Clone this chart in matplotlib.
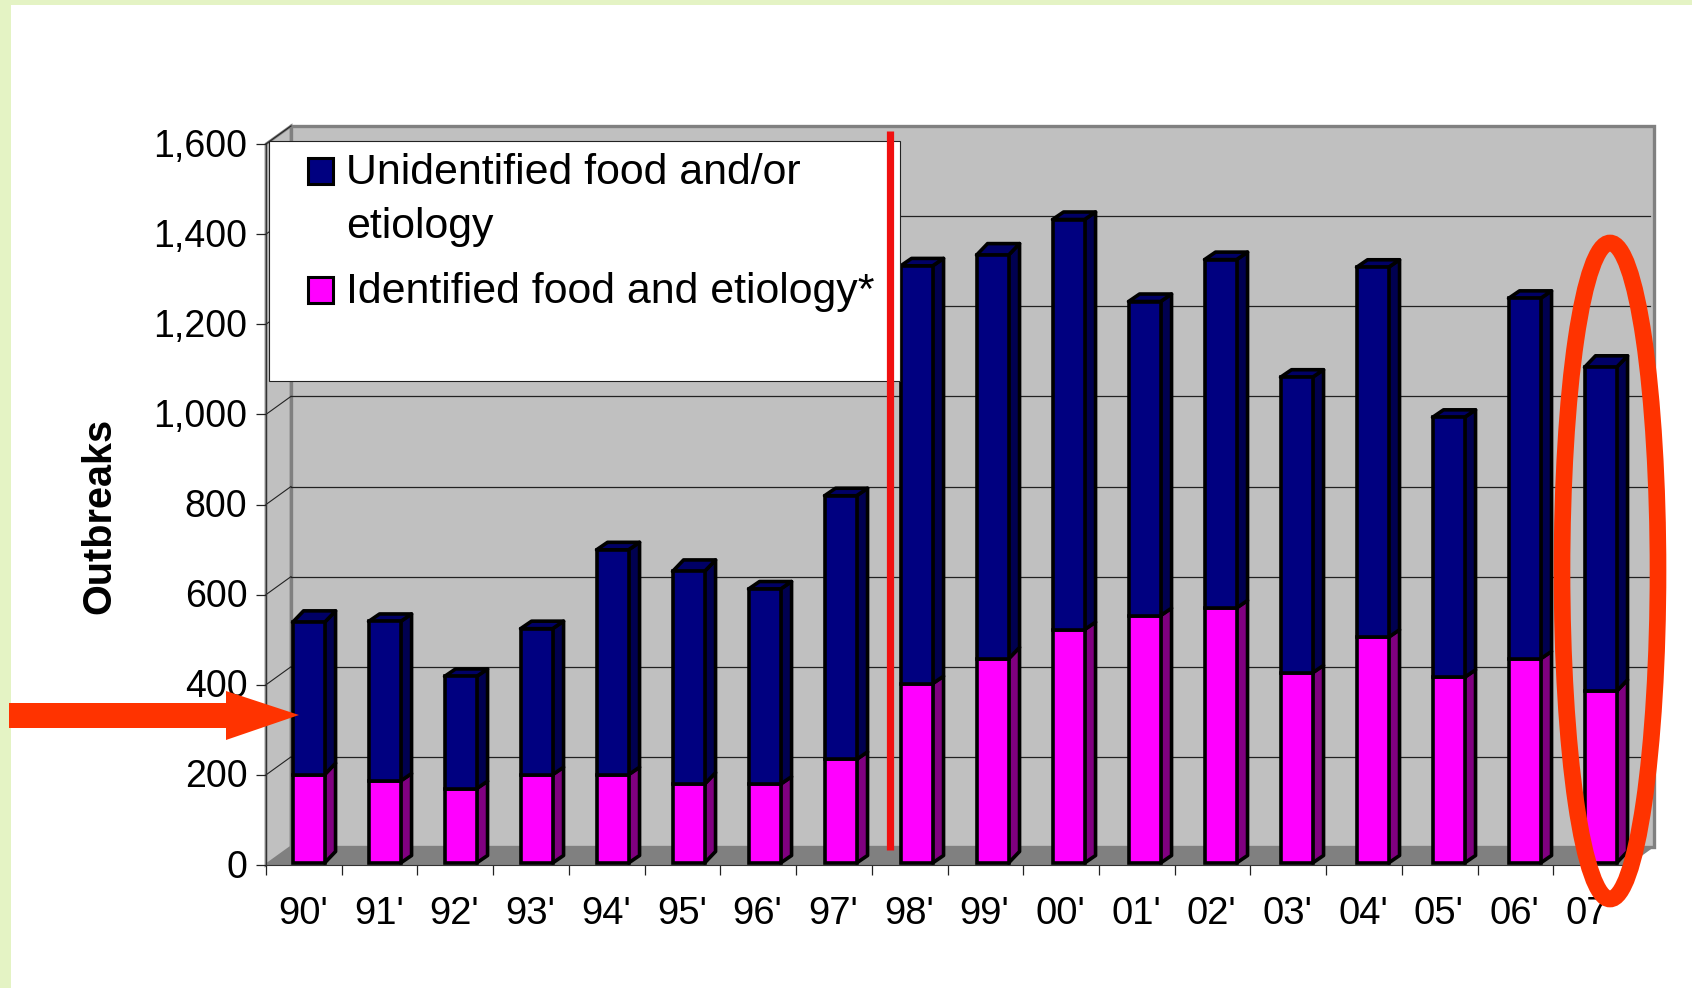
import numpy as np
import matplotlib
matplotlib.use("Agg")
import matplotlib.pyplot as plt
from matplotlib.patches import Rectangle, Ellipse, Polygon
from matplotlib.transforms import ScaledTranslation

plt.rcParams['font.family'] = ['Liberation Sans', 'DejaVu Sans']

years = ["90'", "91'", "92'", "93'", "94'", "95'", "96'", "97'", "98'", "99'",
         "00'", "01'", "02'", "03'", "04'", "05'", "06'", "07'"]
identified = [196, 182, 165, 196, 196, 175, 175, 230, 398, 453,
              518, 549, 566, 422, 501, 412, 453, 381]
unidentified = [338, 354, 249, 324, 499, 472, 433, 585, 927, 896,
                910, 697, 773, 656, 821, 577, 800, 719]
y_ticks = [0, 200, 400, 600, 800, 1000, 1200, 1400, 1600]

W, H = 1692, 988
fig = plt.figure(figsize=(W / 100, H / 100), dpi=100, facecolor="#e4f3c4")

# white slide area behind everything
bg = fig.add_axes([0, 0, 1, 1], zorder=0)
bg.set_xlim(0, W)
bg.set_ylim(H, 0)
bg.axis("off")
bg.add_patch(Rectangle((11, 5), W - 11, H - 5, fc="white", ec="none"))

# chart axes, front plane of the 3d box
L, R, B, T = 266, 1629, 865, 144
ax = fig.add_axes([L / W, 1 - B / H, (R - L) / W, (B - T) / H], zorder=1)
ax.patch.set_visible(False)
ax.set_xlim(0, 18)
ax.set_ylim(0, 1600)
px, py = 18 / (R - L), 1600 / (B - T)

# box walls
dx, dy = 25 * px, 18 * py
grey = "#808080"
wall = "#c0c0c0"
ax.add_patch(Polygon([(dx, dy), (18 + dx, dy), (18 + dx, 1600 + dy), (dx, 1600 + dy)],
                     fc=wall, ec=grey, lw=2.4, clip_on=False, zorder=1))
ax.add_patch(Polygon([(0, 0), (dx, dy), (dx, 1600 + dy), (0, 1600)],
                     fc=wall, ec=grey, lw=2.0, clip_on=False, zorder=1))
ax.add_patch(Polygon([(0, 0), (18, 0), (18 + dx, dy), (dx, dy)],
                     fc=grey, ec="none", clip_on=False, zorder=2))
for v in y_ticks[1:-1]:
    ax.plot([dx, 18 + dx - 4 * px], [v + dy, v + dy], color="#222222", lw=0.9,
            clip_on=False, zorder=2)
for v in y_ticks[1:]:
    ax.plot([0, dx], [v, v + dy], color="#222222", lw=0.8, clip_on=False, zorder=2)

# stacked bars with fake depth
x = np.arange(18) + 0.5 + np.linspace(4.7, 9.4, 18) * px
bw = 32 * px
lift = 2 * py
base = np.array(identified) + lift
top = base + np.array(unidentified)
edge = 2.6
ax.bar(x, identified, bw, bottom=lift, color="#ff00ff", edgecolor="black", lw=edge, zorder=5)
ax.bar(x, unidentified, bw, bottom=base, color="#000080", edgecolor="black", lw=edge, zorder=5)

ddx = 11 * px
for i in range(18):
    ddy = (11.5 if i in (0, 5, 9, 17) else 7.5) * py
    r = x[i] + bw / 2
    l = x[i] - bw / 2
    ax.fill([r, r + ddx, r + ddx, r], [lift, lift + ddy, base[i] + ddy, base[i]],
            fc="#800080", ec="black", lw=edge, joinstyle="round", clip_on=False, zorder=4)
    ax.fill([r, r + ddx, r + ddx, r], [base[i], base[i] + ddy, top[i] + ddy, top[i]],
            fc="#000050", ec="black", lw=edge, joinstyle="round", clip_on=False, zorder=4)
    ax.fill([l, l + ddx, r + ddx, r], [top[i], top[i] + ddy, top[i] + ddy, top[i]],
            fc="#000066", ec="black", lw=edge, joinstyle="round", clip_on=False, zorder=4)

# axes, ticks and labels
for s in ("top", "right"):
    ax.spines[s].set_visible(False)
ax.spines["left"].set_color("#333333")
ax.spines["bottom"].set_color("#333333")
ax.set_xticks(np.arange(19))
ax.set_xticklabels([])
ax.set_xticks(np.arange(18) + 0.49, minor=True)
ax.set_xticklabels(years, minor=True, fontsize=27.5)
ax.tick_params(axis="x", which="major", length=7.5, width=0.9, color="#222222")
ax.tick_params(axis="x", which="minor", length=0, pad=22.5)
ax.set_yticks(y_ticks)
ax.set_yticklabels([f"{v:,}" for v in y_ticks], fontsize=27)
ax.tick_params(axis="y", length=7.5, width=0.9, color="#222222", pad=6)
up = ScaledTranslation(0, 1.5 / 100, fig.dpi_scale_trans)
for lab in ax.get_yticklabels():
    lab.set_transform(lab.get_transform() + up)

# overlay in pixel coordinates: legend box and the hand drawn marks
ov = fig.add_axes([0, 0, 1, 1], zorder=2)
ov.set_xlim(0, W)
ov.set_ylim(H, 0)
ov.axis("off")
ov.text(99, 516, "Outbreaks", rotation=90, fontsize=28.5, fontweight="bold", ha="center", va="center")

ov.add_patch(Rectangle((269, 141), 631, 240, fc="white", ec="#222222", lw=0.8))
ov.add_patch(Rectangle((308, 158), 25, 26, fc="#000080", ec="black", lw=2.2))
ov.add_patch(Rectangle((308, 277), 25, 26, fc="#ff00ff", ec="black", lw=2.2))
ov.text(346, 173, "Unidentified food and/or", fontsize=30.9, va="center")
ov.text(346, 227, "etiology", fontsize=30.9, va="center")
ov.text(346, 292, "Identified food and etiology*", fontsize=30.9, va="center")

red = "#ff3300"
ov.plot([890, 890], [131, 850], color="#f01010", lw=5.2, solid_capstyle="butt")
ov.add_patch(Polygon([(9, 703), (226, 703), (226, 691), (299, 715), (226, 740), (226, 728), (9, 728)],
                     fc=red, ec="none"))
ov.add_patch(Ellipse((1610, 571), 96, 656, fc="none", ec=red, lw=12))

fig.savefig("out.png", dpi=100, facecolor=fig.get_facecolor())
